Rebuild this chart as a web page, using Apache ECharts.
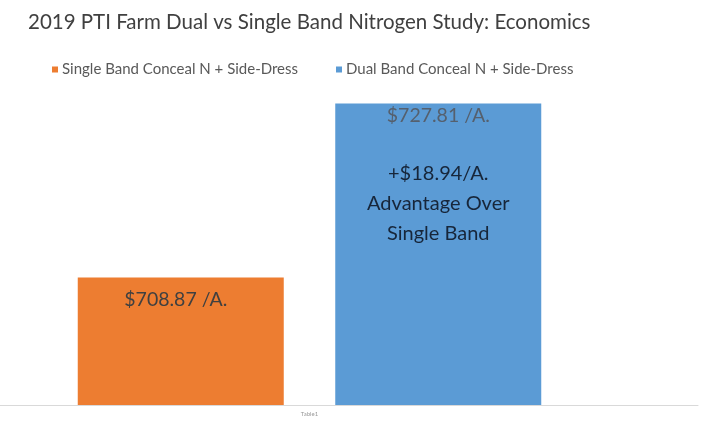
<!DOCTYPE html>
<html>
<head>
<meta charset="utf-8">
<script src="https://cdn.jsdelivr.net/npm/echarts@6/dist/echarts.min.js"></script>
<style>html,body{margin:0;padding:0;background:#fff}#c{width:709px;height:423px}</style>
</head>
<body>
<div id="c"></div>
<script>
const categories = ['Table1'];
const seriesNames = ['Single Band Conceal N + Side-Dress', 'Dual Band Conceal N + Side-Dress'];
const singleBand = [708.87];
const dualBand = [727.81];
const colors = ['#ED7D31', '#5B9BD5'];

const FONT = 'Lato';
const adv = (dualBand[0] - singleBand[0]).toFixed(2);
const chart = echarts.init(document.getElementById('c'));
chart.setOption({
  backgroundColor: '#fff',
  animation: false,
  title: {
    text: '2019 PTI Farm Dual vs Single Band Nitrogen Study: Economics',
    left: 28, top: 12, padding: 0,
    textStyle: { fontFamily: FONT, fontSize: 20.5, fontWeight: 'normal', color: '#404040' }
  },
  legend: {
    left: 52, top: 62, padding: 0,
    icon: 'rect', itemWidth: 6, itemHeight: 6, itemGap: 38,
    textStyle: { fontFamily: FONT, fontSize: 15, color: '#595959', padding: [0, 0, 0, -1] },
    data: seriesNames
  },
  grid: [
    { left: 0, right: 90, top: 83.5, bottom: 18 },
    { left: 0, right: 11, top: 83.5, bottom: 18 }
  ],
  xAxis: [
    {
      type: 'category', data: categories, gridIndex: 0,
      axisLine: { show: false },
      axisTick: { show: false },
      axisLabel: { fontSize: 6, color: '#999', margin: 6, fontFamily: FONT }
    },
    {
      type: 'category', data: categories, gridIndex: 1,
      axisLine: { lineStyle: { color: '#d9d9d9', width: 1 } },
      axisTick: { show: false }, axisLabel: { show: false }
    }
  ],
  yAxis: [
    { type: 'value', min: 695, max: 730, show: false, splitLine: { show: false }, gridIndex: 0 },
    { type: 'value', min: 695, max: 730, show: false, splitLine: { show: false }, gridIndex: 1 }
  ],
  series: [
    {
      name: seriesNames[0], type: 'bar', data: singleBand, barWidth: 206, barGap: '25%',
      itemStyle: { color: colors[0] }, z: 3,
      label: {
        show: true, position: 'insideTop', distance: 11,
        formatter: p => '$' + p.value.toFixed(2) + ' /A.',
        fontFamily: FONT, fontSize: 19.5, color: '#404040', lineHeight: 22, offset: [-5, 0]
      }
    },
    {
      name: seriesNames[1], type: 'bar', data: dualBand, barWidth: 206,
      itemStyle: { color: colors[1] }, z: 3,
      label: {
        show: true, position: 'insideTop', distance: 0,
        formatter: p => '{a|$' + p.value.toFixed(2) + ' /A.}\n{s| }\n{b|+$' + adv + '/A.}\n{b|Advantage Over}\n{b|Single Band}',
        rich: {
          a: { fontFamily: FONT, fontSize: 19.5, color: '#55606e', lineHeight: 24 },
          s: { fontSize: 10, lineHeight: 31 },
          b: { fontFamily: FONT, fontSize: 20, color: '#17263a', lineHeight: 30 }
        }
      }
    }
  ]
});
</script>
</body>
</html>
